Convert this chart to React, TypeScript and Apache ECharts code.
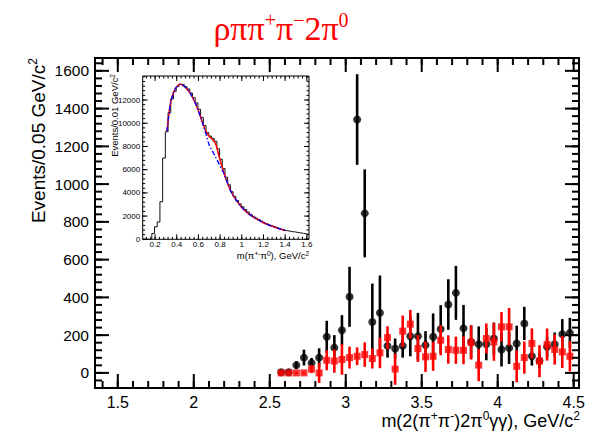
import React, { useEffect, useRef } from "react";
import * as echarts from "echarts";

// ---------- main plot data (bins of 0.05 GeV/c^2) ----------
const binCenters = [2.575, 2.625, 2.675, 2.725, 2.775, 2.825, 2.875, 2.925, 2.975, 3.025, 3.075, 3.125, 3.175, 3.225, 3.275, 3.325, 3.375, 3.425, 3.475, 3.525, 3.575, 3.625, 3.675, 3.725, 3.775, 3.825, 3.875, 3.925, 3.975, 4.025, 4.075, 4.125, 4.175, 4.225, 4.275, 4.325, 4.375, 4.425, 4.475];
const blackValues = [3, 3, 41, 81, 53, 81, 191, 134, 226, 403, 1342, 845, 270, 318, 143, 129, 143, 194, 194, 147, 191, 232, 362, 424, 236, 164, 152, 152, 182, 124, 132, 156, 262, 88, 65, 138, 152, 205, 212];
const blackErrors = [8, 8, 20, 42, 26, 49, 85, 66, 80, 159, 240, 233, 203, 198, 62, 53, 62, 106, 124, 74, 124, 127, 134, 143, 124, 88, 94, 85, 85, 90, 85, 94, 88, 49, 40, 53, 62, 80, 80];
const redValues = [0, 0, 0, 0, 20, 0, 67, 63, 71, 81, 88, 97, 76, 106, 187, 20, 221, 258, 129, 85, 88, 173, 124, 120, 120, 161, 41, 182, 164, 244, 244, 35, 81, 156, 62, 150, 124, 111, 88];
const redErrors = [5, 5, 5, 5, 21, 53, 53, 62, 81, 58, 47, 65, 53, 81, 60, 83, 83, 76, 71, 80, 77, 80, 75, 72, 74, 90, 85, 80, 100, 78, 100, 85, 85, 80, 85, 85, 80, 85, 80];

const mainXLabels = [1.5, 2, 2.5, 3, 3.5, 4, 4.5];
const mainYLabels = [0, 200, 400, 600, 800, 1000, 1200, 1400, 1600];

// ---------- inset data ----------
const insetHistStart = 0.17;
const insetHistWidth = 0.025;
const insetHistValues = [500, 1080, 1500, 3240, 7000, 9270, 10900, 12100, 12750, 13150, 13350, 13330, 13150, 12950, 12600, 12200, 11750, 11200, 10500, 9800, 9200, 8900, 8700, 8450, 7800, 6900, 6100, 5350, 4700, 4100, 3700, 3350, 3050, 2800, 2570, 2350, 2150, 1980, 1830, 1700, 1570, 1420, 1320, 1230, 1150, 1060, 970, 900, 820, 750, 700, 660, 630, 590, 550, 510, 470, 430];
const fitX = [0.31, 0.34, 0.37, 0.4, 0.43, 0.46, 0.49, 0.52, 0.55, 0.58, 0.61, 0.64, 0.67, 0.7, 0.73, 0.76, 0.79, 0.82, 0.85, 0.88, 0.91, 0.95, 1.0, 1.05, 1.1, 1.15, 1.2, 1.25, 1.3, 1.35, 1.4];
const fitRed = [9300, 11600, 12650, 13150, 13350, 13250, 13000, 12650, 12150, 11550, 10800, 10000, 9250, 8850, 8600, 8200, 7150, 6200, 5300, 4550, 3950, 3350, 2750, 2300, 1950, 1680, 1430, 1230, 1060, 900, 760];
const fitBlue = [9300, 11600, 12650, 13150, 13350, 13250, 13000, 12650, 12150, 11550, 10800, 9950, 9050, 8100, 7600, 7050, 6500, 5950, 5350, 4550, 3950, 3350, 2750, 2300, 1950, 1680, 1430, 1230, 1060, 900, 760];

const insetXLabels = [0.2, 0.4, 0.6, 0.8, 1, 1.2, 1.4, 1.6];
const insetYLabels = [0, 2000, 4000, 6000, 8000, 10000, 12000];

const SANS = "'Liberation Sans', Arial, Helvetica, sans-serif";
const SERIF = "'Liberation Serif', 'Times New Roman', serif";

function steps(from: number, to: number, step: number): number[] {
  const out: number[] = [];
  const n = Math.round((to - from) / step);
  for (let i = 0; i <= n; i++) out.push(Math.round((from + i * step) * 10000) / 10000);
  return out;
}

function axis(grid: number, min: number, max: number, position: string, labels: number[], fontSize: number, margin: number) {
  return {
    type: "value",
    gridIndex: grid,
    min,
    max,
    position,
    axisLine: { show: false, onZero: false },
    axisTick: { show: false },
    axisLabel: {
      show: true, customValues: labels, fontSize, fontFamily: SANS, color: "#000", margin,
      formatter: (v: number) => String(v),
    },
    splitLine: { show: false },
    minorTick: { show: false },
  };
}

export default function App() {
  const ref = useRef<HTMLDivElement>(null);
  useEffect(() => {
    if (!ref.current) return;
    const chart = echarts.init(ref.current, null, { renderer: "svg" });

    const MX: [number, number] = [1.35, 4.535];
    const MY: [number, number] = [-80, 1668];
    const IX: [number, number] = [0.086, 1.62];
    const IY: [number, number] = [0, 14070];

    const mainXMinor = steps(1.4, 4.5, 0.1);
    const mainYMinor = steps(-40, 1640, 40);
    const insetXMinor = steps(0.12, 1.6, 0.04);
    const insetYMinor = steps(0, 14000, 400);

    const histData: number[][] = [[IX[0], 0], [insetHistStart, 0]];
    insetHistValues.forEach((v, i) => histData.push([insetHistStart + i * insetHistWidth, v]));
    histData.push([insetHistStart + insetHistValues.length * insetHistWidth, insetHistValues[insetHistValues.length - 1]]);

    // tick marks drawn on all four sides, positioned through the axes
    const ticks = (grid: number, values: number[], dim: "x" | "y", len: number, width: number, xr: number[], yr: number[]) => ({
      type: "custom",
      xAxisIndex: grid,
      yAxisIndex: grid,
      z: 10,
      silent: true,
      clip: false,
      data: values.map((v) => (dim === "x" ? [v, yr[0]] : [xr[0], v])),
      encode: { x: 0, y: 1 },
      renderItem: (params: any, api: any) => {
        const cs = params.coordSys;
        const p = api.coord([api.value(0), api.value(1)]);
        const style = { stroke: "#000", lineWidth: width };
        if (dim === "x") {
          const b = cs.y + cs.height;
          return {
            type: "group",
            children: [
              { type: "line", shape: { x1: p[0], y1: b, x2: p[0], y2: b - len }, style },
              { type: "line", shape: { x1: p[0], y1: cs.y, x2: p[0], y2: cs.y + len }, style },
            ],
          };
        }
        const r = cs.x + cs.width;
        return {
          type: "group",
          children: [
            { type: "line", shape: { x1: cs.x, y1: p[1], x2: cs.x + len, y2: p[1] }, style },
            { type: "line", shape: { x1: r, y1: p[1], x2: r - len, y2: p[1] }, style },
          ],
        };
      },
    });

    const errBar = (color: string, vals: number[], errs: number[], z: number) => ({
      type: "custom",
      xAxisIndex: 0,
      yAxisIndex: 0,
      z,
      silent: true,
      clip: true,
      data: binCenters.map((x, i) => [x, vals[i] - errs[i], vals[i] + errs[i]]),
      encode: { x: 0, y: [1, 2] },
      renderItem: (_p: any, api: any) => {
        const a = api.coord([api.value(0), api.value(1)]);
        const b = api.coord([api.value(0), api.value(2)]);
        return {
          type: "line",
          shape: { x1: a[0], y1: a[1], x2: b[0], y2: b[1] },
          style: { stroke: color, lineWidth: 2.6 },
        };
      },
    });

    const supRich = (size: number, supSize: number, family: string, color: string, lh: number) => ({
      n: { fontSize: size, fontFamily: family, fill: color, lineHeight: lh },
      s: { fontSize: supSize, fontFamily: family, fill: color, verticalAlign: "top" },
    });

    chart.setOption({
      animation: false,
      backgroundColor: "#fff",
      grid: [
        { left: 95, top: 58, width: 484, height: 330, outerBoundsMode: "none", containLabel: false, show: true, borderColor: "#000", borderWidth: 2, backgroundColor: "transparent" },
        { left: 142.7, top: 76, width: 166.3, height: 163.3, outerBoundsMode: "none", containLabel: false, show: true, backgroundColor: "#fff", borderColor: "#000", borderWidth: 1 },
      ],
      xAxis: [
        axis(0, MX[0], MX[1], "bottom", mainXLabels, 16, 6),
        axis(1, IX[0], IX[1], "bottom", insetXLabels, 8, 1.5),
      ],
      yAxis: [
        axis(0, MY[0], MY[1], "left", mainYLabels, 15.5, 6),
        axis(1, IY[0], IY[1], "left", insetYLabels, 8, 2.5),
      ],
      series: [
        ticks(0, mainXLabels, "x", 14, 2, MX, MY),
        ticks(0, mainXMinor, "x", 7, 2, MX, MY),
        ticks(0, mainYLabels, "y", 14, 2, MX, MY),
        ticks(0, mainYMinor, "y", 7, 2, MX, MY),
        errBar("#000", blackValues, blackErrors, 2),
        {
          type: "scatter", xAxisIndex: 0, yAxisIndex: 0, z: 3, silent: true,
          symbol: "circle", symbolSize: 8,
          itemStyle: { color: "#000" },
          data: binCenters.map((x, i) => [x, blackValues[i]]),
        },
        errBar("#ff0000", redValues, redErrors, 4),
        {
          type: "scatter", xAxisIndex: 0, yAxisIndex: 0, z: 5, silent: true,
          symbol: "rect", symbolSize: 7,
          itemStyle: { color: "#ff0000" },
          data: binCenters.map((x, i) => [x, redValues[i]]),
        },
        {
          type: "line", xAxisIndex: 1, yAxisIndex: 1, z: 6, silent: true,
          step: "end", showSymbol: false, clip: true,
          lineStyle: { color: "#111", width: 1 },
          data: histData,
        },
        {
          type: "line", xAxisIndex: 1, yAxisIndex: 1, z: 7, silent: true,
          smooth: 0.3, showSymbol: false, clip: true,
          lineStyle: { color: "#ff0000", width: 1.5 },
          data: fitX.map((x, i) => [x, fitRed[i]]),
        },
        {
          type: "line", xAxisIndex: 1, yAxisIndex: 1, z: 8, silent: true,
          smooth: 0.3, showSymbol: false, clip: true,
          lineStyle: { color: "#0000ff", width: 1.3, type: [5, 2, 1.5, 2] },
          data: fitX.map((x, i) => [x, fitBlue[i]]),
        },
        ticks(1, insetXLabels, "x", 5, 1, IX, IY),
        ticks(1, insetXMinor, "x", 2.5, 1, IX, IY),
        ticks(1, insetYLabels, "y", 5, 1, IX, IY),
        ticks(1, insetYMinor, "y", 2.5, 1, IX, IY),
      ],
      graphic: [
        {
          type: "text", x: 281, y: 28, silent: true,
          style: {
            text: "{n|ρππ}{s|+}{n|π}{s|−}{n|2π}{s|0}",
            rich: supRich(34, 20, SERIF, "#ff0000", 36),
            align: "center", verticalAlign: "middle",
          },
        },
        {
          type: "text", x: 580, y: 432, silent: true,
          style: {
            text: "{n|m(2(π}{s|+}{n|π}{s|-}{n|)2π}{s|0}{n|γγ), GeV/c}{s|2}",
            rich: supRich(18, 12, SANS, "#000", 22),
            align: "right", verticalAlign: "bottom",
          },
        },
        {
          type: "text", x: 38, y: 58, rotation: Math.PI / 2, silent: true,
          style: {
            text: "{n|Events/0.05 GeV/c}{s|2}",
            rich: supRich(19, 12, SANS, "#000", 22),
            align: "right", verticalAlign: "middle",
          },
        },
        {
          type: "text", x: 309, y: 255, silent: true,
          style: {
            text: "{n|m(π}{s|+-}{n|π}{s|0}{n|), GeV/c}{s|2}",
            rich: supRich(9.5, 6.5, SANS, "#000", 11),
            align: "right", verticalAlign: "middle",
          },
        },
        {
          type: "text", x: 114, y: 74, rotation: Math.PI / 2, silent: true,
          style: {
            text: "{n|Events/0.01 GeV/c}{s|2}",
            rich: supRich(9.5, 6.5, SANS, "#000", 11),
            align: "right", verticalAlign: "middle",
          },
        },
      ],
    });
    return () => chart.dispose();
  }, []);
  return <div ref={ref} style={{ position: "absolute", left: 0, top: 0, width: 595, height: 432 }} />;
}
